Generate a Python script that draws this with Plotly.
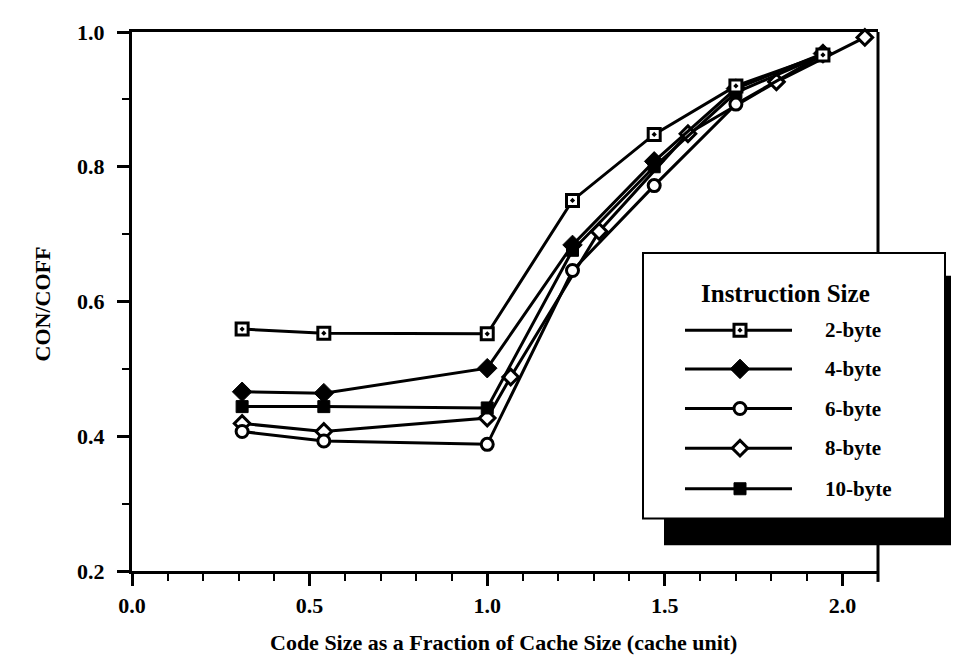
import plotly.graph_objects as go

# ---------------- data ----------------
x_main = [0.31, 0.54, 1.0, 1.24, 1.47, 1.70, 1.945]
y_2byte = [0.559, 0.553, 0.552, 0.750, 0.848, 0.920, 0.966]
y_4byte = [0.466, 0.464, 0.501, 0.684, 0.808, 0.916, 0.968]
y_6byte = [0.407, 0.393, 0.388, 0.646, 0.772, 0.893, 0.966]
y_10byte = [0.444, 0.444, 0.442, 0.676, 0.800, 0.910, 0.966]

x_8byte = [0.31, 0.54, 1.0, 1.066, 1.315, 1.565, 1.814, 2.063]
y_8byte = [0.419, 0.407, 0.427, 0.488, 0.704, 0.849, 0.926, 0.992]

series_names = ["2-byte", "4-byte", "6-byte", "8-byte", "10-byte"]
x_ticks = [0.0, 0.5, 1.0, 1.5, 2.0]
x_tick_labels = ["0.0", "0.5", "1.0", "1.5", "2.0"]
y_ticks = [0.2, 0.4, 0.6, 0.8, 1.0]
y_tick_labels = ["0.2", "0.4", "0.6", "0.8", "1.0"]

legend_title = "Instruction Size"
x_title = "Code Size as a Fraction of Cache Size (cache unit)"
y_title = "CON/COFF"

FONT = "Liberation Serif"

styles = {
    "2-byte": dict(symbol="square-dot", size=12, color="white", lw=3),
    "4-byte": dict(symbol="diamond", size=15, color="black", lw=1),
    "6-byte": dict(symbol="circle", size=12, color="white", lw=3),
    "8-byte": dict(symbol="diamond", size=12, color="white", lw=3),
    "10-byte": dict(symbol="square", size=12, color="black", lw=1),
}

data = {
    "2-byte": (x_main, y_2byte),
    "4-byte": (x_main, y_4byte),
    "6-byte": (x_main, y_6byte),
    "8-byte": (x_8byte, y_8byte),
    "10-byte": (x_main, y_10byte),
}

fig = go.Figure()
for name in ["8-byte", "6-byte", "10-byte", "4-byte", "2-byte"]:
    xs, ys = data[name]
    st = styles[name]
    fig.add_trace(go.Scatter(
        x=xs, y=ys, mode="lines+markers", name=name, showlegend=False,
        line=dict(color="black", width=3),
        marker=dict(symbol=st["symbol"], size=st["size"], color=st["color"],
                    line=dict(color="black", width=st["lw"])),
        cliponaxis=False,
    ))

# ---------------- page geometry (page pixels; body has an 8px margin) ----------------
OFF = 8
L, R, T, B = 132, 878, 27, 571
W, H = R - L, B - T


def px(xp):
    return (xp - L) / W


def py(yp):
    return (B - yp) / H


shapes = []
# right border of the plot frame (hidden behind the legend)
shapes.append(dict(type="line", xref="paper", yref="paper", x0=1, x1=1,
                   y0=1, y1=py(250), line=dict(color="black", width=3), layer="below"))
shapes.append(dict(type="line", xref="paper", yref="paper", x0=1, x1=1,
                   y0=py(544), y1=py(582), line=dict(color="black", width=3), layer="below"))
# legend shadow
shapes.append(dict(type="rect", xref="paper", yref="paper",
                   x0=px(664), x1=px(975), y0=py(545), y1=py(273),
                   fillcolor="black", line=dict(width=0), layer="below"))
# legend box
shapes.append(dict(type="rect", xref="paper", yref="paper",
                   x0=px(643), x1=px(945), y0=py(518), y1=py(250),
                   fillcolor="white", line=dict(color="black", width=2), layer="below"))

row_y = [328, 367, 407, 447, 488]
annotations = [dict(text="<b>%s</b>" % legend_title, xref="paper", yref="paper",
                    x=px(785), y=py(291), xanchor="center", yanchor="middle",
                    showarrow=False, font=dict(family=FONT, size=25, color="black"))]
for name, ry in zip(series_names, row_y):
    shapes.append(dict(type="line", xref="paper", yref="paper",
                       x0=px(685), x1=px(792), y0=py(ry), y1=py(ry),
                       line=dict(color="black", width=3), layer="below"))
    annotations.append(dict(text="<b>%s</b>" % name, xref="paper", yref="paper",
                            x=px(823), y=py(ry), xanchor="left", yanchor="middle",
                            showarrow=False,
                            font=dict(family=FONT, size=21, color="black")))

for name, ry in zip(series_names, row_y):
    st = styles[name]
    fig.add_trace(go.Scatter(
        x=[px(740)], y=[py(ry)], mode="markers", xaxis="x2", yaxis="y2",
        showlegend=False, cliponaxis=False,
        marker=dict(symbol=st["symbol"], size=st["size"], color=st["color"],
                    line=dict(color="black", width=st["lw"])),
    ))

annotations.append(dict(text="<b>%s</b>" % x_title, xref="paper", yref="paper",
                        x=px(503), y=py(643), xanchor="center", yanchor="middle",
                        showarrow=False, font=dict(family=FONT, size=22, color="black")))
annotations.append(dict(text="<b>%s</b>" % y_title, xref="paper", yref="paper",
                        x=px(42), y=py(302), xanchor="center", yanchor="middle",
                        showarrow=False, textangle=-90,
                        font=dict(family=FONT, size=22, color="black")))

axis_common = dict(showgrid=False, zeroline=False, showline=True, linecolor="black",
                   linewidth=3, ticks="outside", tickcolor="black",
                   tickwidth=2.5, ticklen=12,
                   tickfont=dict(family=FONT, size=22, color="black", weight="bold"))

fig.update_layout(
    width=959, height=658,
    margin=dict(l=L - OFF, r=959 - (R - OFF), t=T - OFF, b=658 - (B - OFF)),
    paper_bgcolor="white", plot_bgcolor="white",
    xaxis=dict(range=[0, 2.1], tickvals=x_ticks, ticktext=x_tick_labels, mirror=True,
               ticklabelstandoff=1,
               minor=dict(dtick=0.1, tick0=0, ticks="outside", ticklen=7,
                          tickwidth=2, tickcolor="black"),
               **axis_common),
    yaxis=dict(range=[0.2, 1.0], tickvals=y_ticks, ticktext=y_tick_labels, mirror=False,
               ticklabelstandoff=8,
               minor=dict(dtick=0.1, tick0=0, ticks="outside", ticklen=7,
                          tickwidth=2, tickcolor="black"),
               **axis_common),
    xaxis2=dict(domain=[0, 1], range=[0, 1], overlaying="x", visible=False, anchor="y2"),
    yaxis2=dict(domain=[0, 1], range=[0, 1], overlaying="y", visible=False, anchor="x2"),
    shapes=shapes, annotations=annotations, showlegend=False,
)

fig.write_html("out.html")
